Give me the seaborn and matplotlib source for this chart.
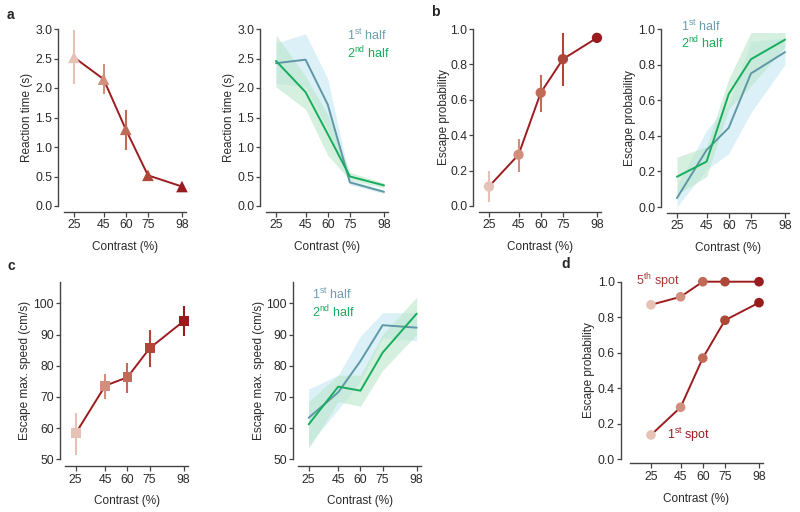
import numpy as np
import matplotlib
matplotlib.use('Agg')
import matplotlib.pyplot as plt
import seaborn as sns

# --- data ---
contrast = [25, 45, 60, 75, 98]

# a: reaction time
rt_mean = [2.52, 2.15, 1.30, 0.52, 0.33]
rt_lo = [2.07, 1.89, 0.95, 0.47, 0.30]
rt_hi = [2.99, 2.40, 1.63, 0.57, 0.36]
rt_first = [2.42, 2.48, 1.72, 0.40, 0.24]
rt_first_lo = [2.08, 2.02, 1.30, 0.36, 0.21]
rt_first_hi = [2.76, 2.92, 2.16, 0.45, 0.27]
rt_second = [2.46, 1.93, 1.22, 0.50, 0.35]
rt_second_lo = [2.02, 1.64, 0.86, 0.44, 0.31]
rt_second_hi = [2.90, 2.20, 1.55, 0.57, 0.39]

# b: escape probability
esc_mean = [0.11, 0.29, 0.64, 0.83, 0.95]
esc_lo = [0.02, 0.19, 0.53, 0.68, 0.92]
esc_hi = [0.20, 0.38, 0.74, 0.98, 0.97]
esc_first = [0.05, 0.32, 0.445, 0.75, 0.87]
esc_first_lo = [0.00, 0.21, 0.30, 0.53, 0.80]
esc_first_hi = [0.12, 0.43, 0.58, 0.93, 0.95]
esc_second = [0.17, 0.255, 0.635, 0.83, 0.94]
esc_second_lo = [0.07, 0.17, 0.55, 0.68, 0.90]
esc_second_hi = [0.28, 0.34, 0.72, 0.98, 0.98]

# c: escape max speed
spd_mean = [58.3, 73.6, 76.3, 85.6, 94.3]
spd_lo = [51.5, 69.3, 71.3, 79.5, 89.5]
spd_hi = [65.0, 77.5, 81.0, 91.5, 99.3]
spd_first = [63.3, 71.5, 81.5, 93.0, 92.2]
spd_first_lo = [54.5, 66.0, 75.0, 89.0, 88.0]
spd_first_hi = [72.5, 77.0, 89.5, 97.0, 97.0]
spd_second = [61.2, 73.3, 72.0, 84.2, 96.7]
spd_second_lo = [53.5, 68.5, 67.0, 78.5, 90.0]
spd_second_hi = [68.5, 77.0, 77.0, 90.0, 102.0]

# d: escape probability, 1st vs 5th spot
spot5 = [0.87, 0.915, 1.0, 1.0, 1.0]
spot1 = [0.137, 0.293, 0.57, 0.783, 0.882]

# --- style ---
sns.set_style('ticks')
plt.rcParams['font.family'] = ['Liberation Sans', 'DejaVu Sans']
plt.rcParams['mathtext.fontset'] = 'custom'
plt.rcParams['mathtext.rm'] = 'Liberation Sans'
plt.rcParams['axes.edgecolor'] = '#444444'
plt.rcParams['axes.linewidth'] = 1.0

reds = ['#e6c1b5', '#d28f7d', '#c06a58', '#ad4838', '#981b1e']
line_red = '#9c1c1f'
blue, green = '#5f97a6', '#17ad5c'
blue_fill, green_fill = '#c6e8f2', '#b9e6cb'
levels = [str(c) for c in contrast]

fig = plt.figure(figsize=(8, 5.12), dpi=100)
W, H = 800, 512


def make_ax(left, top, right, bottom):
    return fig.add_axes([left / W, 1 - bottom / H, (right - left) / W, (bottom - top) / H])


def style_ax(ax, xlim, ylim, yticks, ylabel, yoff=4, xoff=4, ypad=1.8):
    ax.set_xlim(*xlim)
    ax.set_ylim(*ylim)
    ax.set_xticks(contrast)
    ax.set_yticks(yticks)
    sns.despine(ax=ax, offset={'left': yoff, 'bottom': xoff})
    ax.tick_params(width=0.9, color='#444444', labelcolor='#2a2a2a', labelsize=8.8)
    ax.tick_params(axis='x', length=3.6, pad=1.8)
    ax.tick_params(axis='y', length=3.0, pad=1.2)
    ax.set_xlabel('Contrast (%)', fontsize=8.5, color='#2a2a2a', labelpad=7)
    ax.set_ylabel(ylabel, fontsize=8.5, color='#2a2a2a', labelpad=ypad)


def mean_panel(ax, y, lo, hi, marker, s):
    sns.lineplot(x=contrast, y=y, color=line_red, lw=1.4, ax=ax, clip_on=False)
    ax.vlines(contrast, lo, hi, colors=reds, lw=1.5, zorder=2.5, clip_on=False)
    sns.scatterplot(x=contrast, y=y, hue=levels, palette=reds, marker=marker, s=s,
                    edgecolor='none', legend=False, ax=ax, zorder=3, clip_on=False)


def half_panel(ax, first, flo, fhi, second, slo, shi):
    ax.fill_between(contrast, flo, fhi, color=blue_fill, alpha=0.6, lw=0)
    ax.fill_between(contrast, slo, shi, color=green_fill, alpha=0.6, lw=0)
    sns.lineplot(x=contrast, y=first, color=blue, lw=1.4, ax=ax)
    sns.lineplot(x=contrast, y=second, color=green, lw=1.4, ax=ax)


def half_labels(ax, x, y1, y2):
    ax.text(x, y1, '1$^{\\mathrm{st}}$ half', color='#6a9fb2', fontsize=9,
            transform=ax.transAxes, va='center')
    ax.text(x, y2, '2$^{\\mathrm{nd}}$ half', color=green, fontsize=9,
            transform=ax.transAxes, va='center')


xl = (18, 101)

# a
ax = make_ax(63.6, 29, 186.4, 206)
mean_panel(ax, rt_mean, rt_lo, rt_hi, '^', 70)
style_ax(ax, xl, (0, 3.0), np.arange(0, 3.01, 0.5), 'Reaction time (s)')

ax = make_ax(265.6, 29, 388.4, 206)
half_panel(ax, rt_first, rt_first_lo, rt_first_hi, rt_second, rt_second_lo, rt_second_hi)
style_ax(ax, xl, (0, 3.0), np.arange(0, 3.01, 0.5), 'Reaction time (s)')
half_labels(ax, 0.66, 0.966, 0.864)

# b
ax = make_ax(478.6, 29, 601.4, 206)
mean_panel(ax, esc_mean, esc_lo, esc_hi, 'o', 55)
style_ax(ax, xl, (0, 1.0), np.arange(0, 1.01, 0.2), 'Escape probability', ypad=0.2)

ax = make_ax(666.6, 29, 789.4, 207)
half_panel(ax, esc_first, esc_first_lo, esc_first_hi, esc_second, esc_second_lo, esc_second_hi)
style_ax(ax, xl, (0, 1.0), np.arange(0, 1.01, 0.2), 'Escape probability')
half_labels(ax, 0.12, 1.015, 0.92)

# c
ax = make_ax(65.3, 281.5, 188.1, 459.3)
mean_panel(ax, spd_mean, spd_lo, spd_hi, 's', 50)
style_ax(ax, xl, (50, 107), np.arange(50, 101, 10), 'Escape max. speed (cm/s)', xoff=5)

ax = make_ax(298.3, 281.5, 421.1, 459.3)
half_panel(ax, spd_first, spd_first_lo, spd_first_hi, spd_second, spd_second_lo, spd_second_hi)
style_ax(ax, xl, (50, 107), np.arange(50, 101, 10), 'Escape max. speed (cm/s)', xoff=5, ypad=1.0)
half_labels(ax, 0.11, 0.93, 0.83)

# d
ax = make_ax(630.3, 281.7, 762.7, 459.3)
sns.lineplot(x=contrast, y=spot5, color=line_red, lw=1.4, ax=ax, clip_on=False)
sns.lineplot(x=contrast, y=spot1, color=line_red, lw=1.4, ax=ax, clip_on=False)
for vals in (spot5, spot1):
    sns.scatterplot(x=contrast, y=vals, hue=levels, palette=reds, marker='o', s=48,
                    edgecolor='none', legend=False, ax=ax, zorder=3, clip_on=False)
style_ax(ax, (11, 100.5), (0, 1.0), np.arange(0, 1.01, 0.2), 'Escape probability', yoff=7, xoff=3)
ax.text(0.045, 1.0, '5$^{\\mathrm{th}}$ spot', color='#a83a33', fontsize=9,
        transform=ax.transAxes, va='center')
ax.text(0.28, 0.137, '1$^{\\mathrm{st}}$ spot', color=line_red, fontsize=9,
        transform=ax.transAxes, va='center')

# panel letters
for lx, ly, lt in [(7, 15, 'a'), (431, 12, 'b'), (7, 266, 'c'), (561, 264, 'd')]:
    fig.text(lx / W, 1 - ly / H, lt, fontsize=10, fontweight='bold', va='center', ha='left')

fig.savefig('out.png', dpi=100)
